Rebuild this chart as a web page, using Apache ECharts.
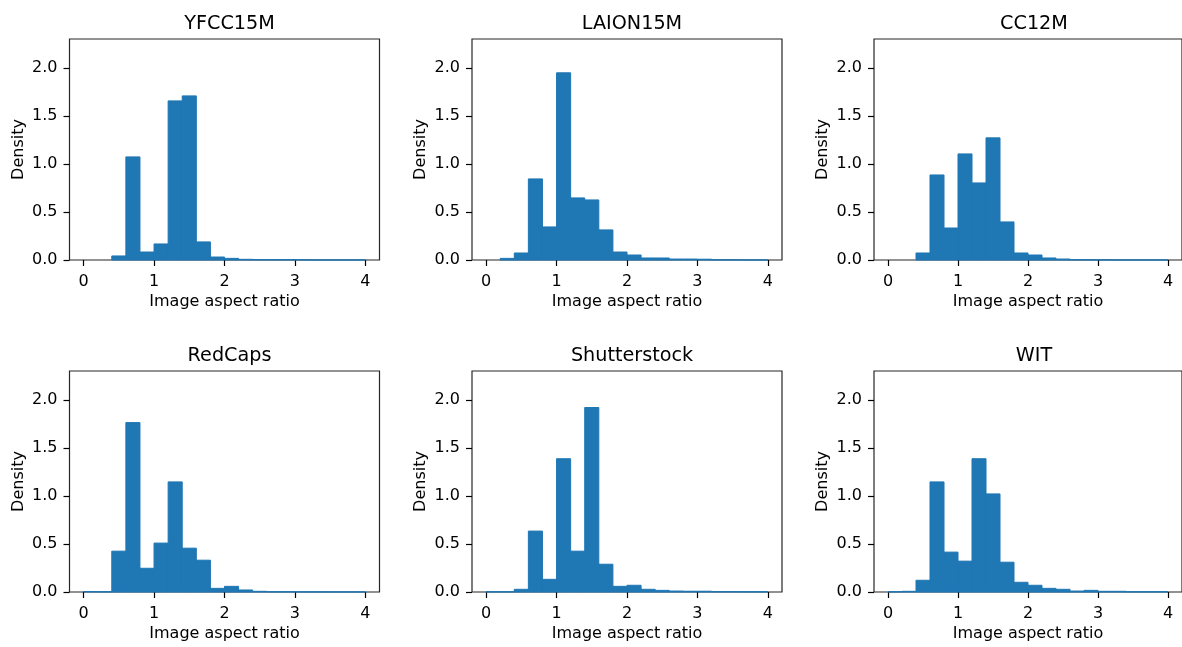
<!DOCTYPE html>
<html lang="en">
<head>
    <meta charset="utf-8">
    <title>Image aspect ratio histograms</title>
    <script src="https://cdn.jsdelivr.net/npm/echarts@6/dist/echarts.min.js"></script>
    <style>
        html, body { margin: 0; padding: 0; background: #fff; }
        #main { width: 1182px; height: 647px; }
    </style>
</head>
<body>
<div id="main"></div>
<script type="text/javascript">
    // histogram bin edges (width 0.2, from 0 to 4)
    var binEdges = [0, 0.2, 0.4, 0.6, 0.8, 1.0, 1.2, 1.4, 1.6, 1.8, 2.0,
                    2.2, 2.4, 2.6, 2.8, 3.0, 3.2, 3.4, 3.6, 3.8, 4.0];
    var datasetNames = ['YFCC15M', 'LAION15M', 'CC12M', 'RedCaps', 'Shutterstock', 'WIT'];

    // density per bin
    var yfcc15m = [0, 0, 0.042, 1.073, 0.083, 0.167, 1.656, 1.708, 0.188, 0.031,
                   0.017, 0.007, 0.005, 0.004, 0.004, 0.002, 0.001, 0.001, 0.001, 0.001];
    var laion15m = [0, 0.017, 0.073, 0.844, 0.344, 1.948, 0.646, 0.625, 0.313, 0.083,
                    0.052, 0.021, 0.021, 0.010, 0.010, 0.008, 0.002, 0.002, 0.001, 0.001];
    var cc12m = [0, 0, 0.073, 0.885, 0.333, 1.104, 0.802, 1.271, 0.396, 0.073,
                 0.052, 0.021, 0.010, 0.003, 0.002, 0.002, 0.001, 0.001, 0.001, 0.001];
    var redcaps = [0.005, 0.003, 0.425, 1.763, 0.247, 0.509, 1.146, 0.456, 0.331, 0.038,
                   0.059, 0.021, 0.007, 0.003, 0.003, 0.002, 0.002, 0.001, 0.001, 0.001];
    var shutterstock = [0.003, 0.003, 0.028, 0.634, 0.132, 1.387, 0.425, 1.920, 0.289, 0.059,
                        0.070, 0.028, 0.017, 0.010, 0.008, 0.008, 0.004, 0.004, 0.003, 0.003];
    var wit = [0.003, 0.007, 0.122, 1.146, 0.415, 0.321, 1.387, 1.021, 0.310, 0.101,
               0.070, 0.038, 0.028, 0.010, 0.017, 0.007, 0.007, 0.003, 0.003, 0.003];

    var xTicks = [0, 1, 2, 3, 4];
    var yTicks = [0, 0.5, 1.0, 1.5, 2.0];

    var allData = [yfcc15m, laion15m, cc12m, redcaps, shutterstock, wit];

    var chart = echarts.init(document.getElementById('main'), null, {renderer: 'canvas'});

    var FONT = 'DejaVu Sans';
    var colLeft = [69.5, 472, 874];
    var rowTop = [39, 371];
    var panelW = 310, panelH = 221;

    var grids = [], xAxes = [], yAxes = [], titles = [], series = [];

    for (var i = 0; i < 6; i++) {
        var c = i % 3, r = Math.floor(i / 3);
        grids.push({
            left: colLeft[c], top: rowTop[r], width: panelW, height: panelH,
            show: true, borderColor: '#262626', borderWidth: 1.2,
            backgroundColor: 'transparent'
        });
        titles.push({
            text: datasetNames[i],
            left: colLeft[c] + panelW / 2,
            top: rowTop[r] - 29,
            textAlign: 'center',
            textStyle: {fontFamily: FONT, fontSize: 19.2, fontWeight: 'normal', color: '#000'}
        });
        xAxes.push({
            type: 'value', gridIndex: i, min: -0.2, max: 4.2,
            name: 'Image aspect ratio', nameLocation: 'middle', nameGap: 34,
            nameMoveOverlap: false,
            nameTextStyle: {fontFamily: FONT, fontSize: 16, color: '#000'},
            splitLine: {show: false},
            axisLine: {show: false, onZero: false},
            axisTick: {show: true, length: 6, lineStyle: {color: '#000', width: 1.2}, customValues: xTicks},
            axisLabel: {fontFamily: FONT, fontSize: 16, color: '#000', margin: 14, customValues: xTicks}
        });
        yAxes.push({
            type: 'value', gridIndex: i, min: 0, max: 2.3,
            name: 'Density', nameLocation: 'middle', nameGap: 43,
            nameMoveOverlap: false,
            nameTextStyle: {fontFamily: FONT, fontSize: 16, color: '#000'},
            splitLine: {show: false},
            axisLine: {show: false, onZero: false},
            axisTick: {show: true, length: 6, lineStyle: {color: '#000', width: 1.2}, customValues: yTicks},
            axisLabel: {fontFamily: FONT, fontSize: 16, color: '#000', margin: 12,
                        customValues: yTicks,
                        formatter: function (v) { return v.toFixed(1); }}
        });

        var items = [];
        for (var b = 0; b < allData[i].length; b++) {
            items.push([binEdges[b], binEdges[b + 1], allData[i][b]]);
        }
        series.push({
            type: 'custom',
            name: datasetNames[i],
            xAxisIndex: i, yAxisIndex: i,
            encode: {x: [0, 1], y: 2},
            data: items,
            renderItem: function (params, api) {
                if (!(api.value(2) > 0)) {
                    return null;
                }
                var top = api.coord([api.value(0), api.value(2)]);
                var base = api.coord([api.value(1), 0]);
                return {
                    type: 'rect',
                    shape: {x: top[0], y: top[1], width: base[0] - top[0], height: base[1] - top[1]},
                    style: {fill: '#1f77b4', stroke: '#1f77b4', lineWidth: 1}
                };
            },
            silent: true
        });
    }

    chart.setOption({
        animation: false,
        backgroundColor: '#fff',
        title: titles,
        grid: grids,
        xAxis: xAxes,
        yAxis: yAxes,
        series: series
    });
</script>
</body>
</html>
